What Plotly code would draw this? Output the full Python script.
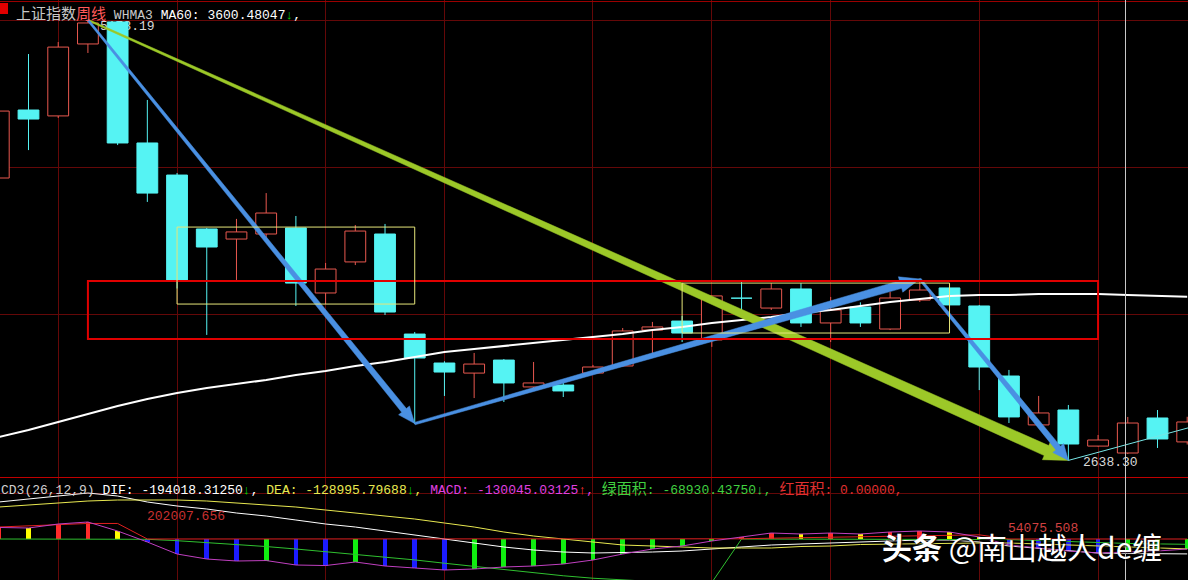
import math
import plotly.graph_objects as go

W, H = 1188, 580

# ---------------- data ----------------
candle_idx = list(range(41))
opens = [4267, 4659, 4625, 5040, 5167, 4469, 4284, 3973, 3915, 3944,
         3979, 3604, 3783, 3944, 3367, 3200, 3142, 3217, 3062, 3073,
         3142, 3183, 3390, 3442, 3333, 3576, 3517, 3627, 3431, 3523,
         3396, 3563, 3633, 3529, 3125, 2843, 2929, 2721, 2681, 2883, 2745]
highs = [4682, 4982, 5051, 5178.19, 5170, 4717, 4296, 3979, 4031, 4180,
         4048, 3777, 3996, 4002, 3379, 3210, 3258, 3223, 3206, 3102,
         3189, 3402, 3437, 3471, 3590, 3667, 3661, 3661, 3581, 3550,
         3610, 3684.57, 3650, 3535, 3160, 3010, 2958, 2785, 2889, 2929, 2890]
lows = [4244, 4428, 4613, 4988, 4457, 4129, 3630, 3362, 3679, 3921,
        3529, 3540, 3765, 3477, 2850.71, 3010, 2998, 2975, 3056, 3004,
        3140, 3180, 3258, 3321, 3293, 3488, 3506, 3408, 3321, 3408,
        3390, 3552, 3523, 3044, 2854, 2831, 2638.30, 2718, 2675, 2710, 2730]
closes = [4653, 4607, 5022, 5161, 4469, 4180, 3679, 3869, 3956, 4065,
          3661, 3742, 3961, 3494, 3229, 3148, 3194, 3085, 3085, 3039,
          3177, 3385, 3408, 3373, 3587, 3574, 3627, 3431, 3506, 3431,
          3575, 3621, 3535, 3177, 2889, 2912, 2733, 2756, 2854, 2762, 2860]
ma60 = [2773.3, 2813.7, 2860.0, 2906.1, 2952.2, 2992.5, 3027.1, 3055.9, 3079.0, 3102.1,
        3130.9, 3154.0, 3182.8, 3205.9, 3234.7, 3263.6, 3280.9, 3298.2, 3315.5, 3332.8,
        3350.1, 3367.3, 3390.4, 3407.7, 3430.8, 3448.1, 3465.4, 3488.4, 3505.7, 3528.8,
        3551.9, 3569.2, 3586.5, 3592.2, 3592.2, 3598.0, 3598.0, 3598.0, 3592.2, 3586.5, 3582.0]
ma60_last = "3600.48047"

zz_idx = [3, 14, 31, 36, 41]
zz_val = [5178.19, 2850.71, 3684.57, 2638.30, 2871]
peak_label = "5178.19"
low_label = "2638.30"

month_idx = [2, 6, 11, 15, 20, 24, 28, 33, 37]
red_box = (3, 37, 3338, 3673)
yellow_boxes = [(6, 14, 3540, 3984), (23, 32, 3373, 3661)]

# MACD panel
dif = [481000, 520000, 559000, 598000, 559000, 481000, 429000, 390000, 338000, 299000,
       247000, 195000, 156000, 104000, 52000, -3000, -52000, -104000, -143000, -169000,
       -182000, -180000, -169000, -156000, -130000, -104000, -78000, -65000, -52000, -39000,
       -26000, -13000, -13000, -39000, -91000, -123500, -156000, -182000, -188500, -195000,
       -194018.3125]
dea = [416000, 442000, 468000, 494000, 507000, 507000, 507000, 494000, 468000, 442000,
       416000, 377000, 338000, 299000, 260000, 208000, 156000, 91000, 39000, 0,
       -39000, -78000, -91000, -104000, -117000, -117000, -117000, -97500, -91000, -71500,
       -65000, -58500, -52000, -52000, -52000, -65000, -78000, -91000, -104000, -117000,
       -128995.79688]
macd = [150000, 143000, 195000, 221000, 104000, -39000, -195000, -260000, -286000, -280000,
        -338000, -345000, -299000, -351000, -377000, -403000, -390000, -364000, -351000, -325000,
        -273000, -195000, -130000, -91000, -26000, 26000, 78000, 65000, 78000, 65000,
        91000, 104000, 91000, 26000, -78000, -117000, -156000, -182000, -169000, -156000,
        -130045.03125]
macd_colors = ["red", "yellow", "red", "red", "yellow", "blue", "blue", "blue", "blue", "green",
               "blue", "blue", "green", "blue", "blue", "blue", "green", "green", "green", "green",
               "green", "green", "green", "green", "green", "red", "red", "yellow", "red", "yellow",
               "red", "red", "yellow", "yellow", "blue", "blue", "blue", "blue", "green", "green",
               "green"]
red_area = [156000, 168000, 186000, 202007.656, 202007.656, 0, 0, 0, 0, 0,
            0, 0, 0, 0, 0, 0, 0, 0, 0, 0,
            0, 0, 0, 0, 0, 2600, 10400, 17000, 25000, 31500,
            40000, 48000, 52000, 54075.508, 0, 0, 0, 0, 0, 0, 0]
green_area = [0, 0, 0, 0, 0, -4000, -22000, -45000, -72000, -98000,
              -130000, -165000, -198000, -234000, -272000, -315000, -358000, -400000, -440000, -478000,
              -510000, -535000, -552000, -561000, -565375.312, 0, 0, 0, 0, 0,
              0, 0, 0, 0, -8000, -20000, -34000, -48000, -58000, -64000, -68930.4375]
red_area_max = "202007.656"
red_area_max2 = "54075.508"
green_area_min = "-565375.312"
hdr_macd = dict(dif="-194018.31250", dea="-128995.79688", macd="-130045.03125",
                green="-68930.43750", red="0.00000")

# ---------------- geometry ----------------
X0, X1 = 0.0407, 40.027
TOP_H = 477
PMAX, PMIN = 5293.53, 2542.67
MACD_TOP, MACD_BOT = 478, 580
VMAX, VMIN = 793000, -533000


def xpx(i):
    return (i - X0) / (X1 - X0) * W


def px2x(p):
    return X0 + p / W * (X1 - X0)


def ypx(p):
    return (PMAX - p) / (PMAX - PMIN) * TOP_H


def px2y(py):
    return PMAX - py / TOP_H * (PMAX - PMIN)


RED = "#e8584f"
CYAN = "#55f3f3"
GRID = "#640808"
MONO = "Liberation Mono, DejaVu Sans Mono, monospace"
CJK = "Noto Sans CJK SC"

fig = go.Figure()

# peak label (drawn beneath candles)
fig.add_trace(go.Scatter(x=[px2x(100)], y=[px2y(27)], mode="text", text=[peak_label],
                         textposition="middle right",
                         textfont=dict(family=MONO, size=13, color="#d8d8d8"),
                         hoverinfo="skip", yaxis="y", xaxis="x"))

# candles
hw = 0.35
for up in (True, False):
    wx, wy, bx, by = [], [], [], []
    for i, o, h, l, c in zip(candle_idx, opens, highs, lows, closes):
        if (c >= o) != up:
            continue
        wx += [i, i, None]
        wy += [l, h, None]
        y0, y1 = min(o, c), max(o, c)
        if y1 - y0 < 2:
            y1 = y0 + 2
        bx += [i - hw, i + hw, i + hw, i - hw, i - hw, None]
        by += [y0, y0, y1, y1, y0, None]
    col = RED if up else CYAN
    fig.add_trace(go.Scatter(x=wx, y=wy, mode="lines", line=dict(color=col, width=1),
                             hoverinfo="skip", xaxis="x", yaxis="y"))
    fig.add_trace(go.Scatter(x=bx, y=by, mode="lines", fill="toself",
                             fillcolor="#000000" if up else CYAN,
                             line=dict(color=col, width=1),
                             hoverinfo="skip", xaxis="x", yaxis="y"))

# MA60
fig.add_trace(go.Scatter(x=candle_idx, y=ma60, mode="lines",
                         line=dict(color="#ffffff", width=2), hoverinfo="skip",
                         xaxis="x", yaxis="y"))

# zigzag thin line
fig.add_trace(go.Scatter(x=zz_idx, y=zz_val, mode="lines",
                         line=dict(color="#78e6e6", width=1), hoverinfo="skip",
                         xaxis="x", yaxis="y"))


def arrow(i0, p0, i1, p1, w0, w1, hl, hh, color):
    ax, ay = xpx(i0), ypx(p0)
    bx, by = xpx(i1), ypx(p1)
    dx, dy = bx - ax, by - ay
    L = math.hypot(dx, dy)
    ux, uy = dx / L, dy / L
    nx, ny = -uy, ux
    hx, hy = bx - ux * hl, by - uy * hl
    pts = [(ax + nx * w0 / 2, ay + ny * w0 / 2),
           (hx + nx * w1 / 2, hy + ny * w1 / 2),
           (hx + nx * hh, hy + ny * hh),
           (bx, by),
           (hx - nx * hh, hy - ny * hh),
           (hx - nx * w1 / 2, hy - ny * w1 / 2),
           (ax - nx * w0 / 2, ay - ny * w0 / 2),
           (ax + nx * w0 / 2, ay + ny * w0 / 2)]
    fig.add_trace(go.Scatter(x=[px2x(a) for a, b in pts], y=[px2y(b) for a, b in pts],
                             mode="lines", fill="toself", fillcolor=color,
                             line=dict(color=color, width=0.5), hoverinfo="skip",
                             xaxis="x", yaxis="y"))


GREEN_ARROW = "#9cc828"
BLUE = "#4a90e2"
arrow(zz_idx[0], zz_val[0], zz_idx[3], zz_val[3], 1.5, 11, 24, 10, GREEN_ARROW)
arrow(zz_idx[0], zz_val[0], zz_idx[1], zz_val[1], 2, 6, 17, 7, BLUE)
arrow(zz_idx[1], zz_val[1], zz_idx[2], zz_val[2], 2.5, 8, 20, 8, BLUE)
arrow(zz_idx[2], zz_val[2], zz_idx[3], zz_val[3], 2.5, 6, 16, 7, BLUE)

# MACD panel
bar_col = {"red": "#ff2a2a", "yellow": "#ffff00", "blue": "#1c1cff", "green": "#10ee10"}
fig.add_trace(go.Bar(x=candle_idx, y=macd, width=0.16,
                     marker=dict(color=[bar_col[c] for c in macd_colors], line=dict(width=0)),
                     hoverinfo="skip", xaxis="x2", yaxis="y2"))
for series, col in ((dif, "#ffffff"), (dea, "#e8e850"), (green_area, "#30c030"),
                    (red_area, "#e02020"), (macd, "#c040c0")):
    fig.add_trace(go.Scatter(x=candle_idx, y=series, mode="lines",
                             line=dict(color=col, width=1), hoverinfo="skip",
                             xaxis="x2", yaxis="y2"))

# ---------------- shapes ----------------
shapes = []
x0b, x1b, y0b, y1b = red_box
shapes.append(dict(type="rect", xref="x", yref="y", x0=x0b, x1=x1b, y0=y0b, y1=y1b,
                   line=dict(color="#e00000", width=2), layer="above"))
for (a, b, c, d) in yellow_boxes:
    shapes.append(dict(type="rect", xref="x", yref="y", x0=a, x1=b, y0=c, y1=d,
                       line=dict(color="#e6e67a", width=1), layer="above"))


def hline(py, color, width=1):
    return dict(type="line", xref="paper", yref="paper", x0=0, x1=1,
                y0=1 - py / H, y1=1 - py / H, line=dict(color=color, width=width),
                layer="above")


shapes.append(hline(1.5, "#9a0000"))
shapes.append(hline(477.5, "#c00000"))
shapes.append(dict(type="line", xref="paper", yref="paper", x0=1125.5 / W, x1=1125.5 / W,
                   y0=0, y1=1, line=dict(color="#c8c8c8", width=1), layer="above"))
shapes.append(dict(type="rect", xref="paper", yref="paper", x0=0, x1=8 / W,
                   y0=1 - 14 / H, y1=1 - 3 / H, fillcolor="#e00000",
                   line=dict(width=0), layer="above"))

# ---------------- annotations ----------------
def sp(txt, color, cjk=False):
    if cjk:
        return f"<span style='font-family:{CJK};font-size:15px;color:{color}'>{txt}</span>"
    return f"<span style='color:{color}'>{txt}</span>"


top_header = (sp("上证指数", "#c8c8c8", True) + sp("周线", "#ff5a5a", True) +
              sp(" WHMA3 ", "#c8c8c8") + sp(f"MA60: {ma60_last}", "#ffffff") +
              sp("↓", "#00d000") + sp(",", "#ffffff"))
macd_header = (sp("CD3(26,12,9) ", "#d0d0d0") +
               sp(f"DIF: {hdr_macd['dif']}", "#ffffff") + sp("↓", "#00d000") + sp(", ", "#ffffff") +
               sp(f"DEA: {hdr_macd['dea']}", "#e8e850") + sp("↓", "#00d000") + sp(", ", "#e8e850") +
               sp(f"MACD: {hdr_macd['macd']}", "#e040e0") + sp("↑", "#ff3030") + sp(", ", "#e040e0") +
               sp("绿面积", "#40d040", True) + sp(f": {hdr_macd['green']}", "#40d040") +
               sp("↓", "#40d040") + sp(", ", "#40d040") +
               sp("红面积", "#e03030", True) + sp(f": {hdr_macd['red']},", "#e03030"))


def ann(text, px_, py_, color="#ffffff", size=13, family=MONO, xanchor="left", **kw):
    return dict(text=text, xref="paper", yref="paper", x=px_ / W, y=1 - py_ / H,
                xanchor=xanchor, yanchor="middle", showarrow=False,
                font=dict(family=family, size=size, color=color), **kw)


annotations = [
    ann(top_header, 14, 12),
    ann(macd_header, -1, 487),
    ann(low_label, 1081, 462, color="#d8d8d8"),
    ann(red_area_max, 145, 516, color="#c83030"),
    ann(red_area_max2, 1006, 528, color="#d04040"),
    ann(green_area_min, 746, 585, color="#30c030"),
    dict(text="<b>头条</b> @南山越人de缠", xref="paper", yref="paper", x=880 / W, y=1 - 546 / H,
         xanchor="left", yanchor="middle", showarrow=False,
         font=dict(family=CJK, size=30, color="#ffffff", shadow="1px 1px 2px #000000")),
]

fig.update_layout(
    width=W, height=H, margin=dict(l=0, r=0, t=0, b=0),
    paper_bgcolor="#000000", plot_bgcolor="#000000",
    showlegend=False, hovermode=False, bargap=0,
    shapes=shapes, annotations=annotations,
    xaxis=dict(domain=[0, 1], range=[X0, X1], anchor="y", tickvals=month_idx,
               showgrid=True, gridcolor=GRID, gridwidth=1, showticklabels=False,
               zeroline=False, showline=False, ticks=""),
    xaxis2=dict(domain=[0, 1], range=[X0, X1], anchor="y2", matches="x", tickvals=month_idx,
                showgrid=True, gridcolor=GRID, gridwidth=1, showticklabels=False,
                zeroline=False, showline=False, ticks=""),
    yaxis=dict(domain=[1 - TOP_H / H, 1], range=[PMIN, PMAX],
               tickvals=[px2y(20), px2y(167), px2y(314)],
               showgrid=True, gridcolor=GRID, gridwidth=1, showticklabels=False,
               zeroline=False, showline=False, ticks=""),
    yaxis2=dict(domain=[0, (H - MACD_TOP) / H], range=[VMIN, VMAX],
                tickvals=[(539 - 493) * 13000],
                showgrid=True, gridcolor=GRID, gridwidth=1, showticklabels=False,
                zeroline=False, showline=False, ticks=""),
)

fig.write_html(
    "out.html",
    config={"displayModeBar": False},
    post_script="document.body.style.margin='0px';document.body.style.background='#000';"
                "document.body.style.overflow='hidden';",
)
